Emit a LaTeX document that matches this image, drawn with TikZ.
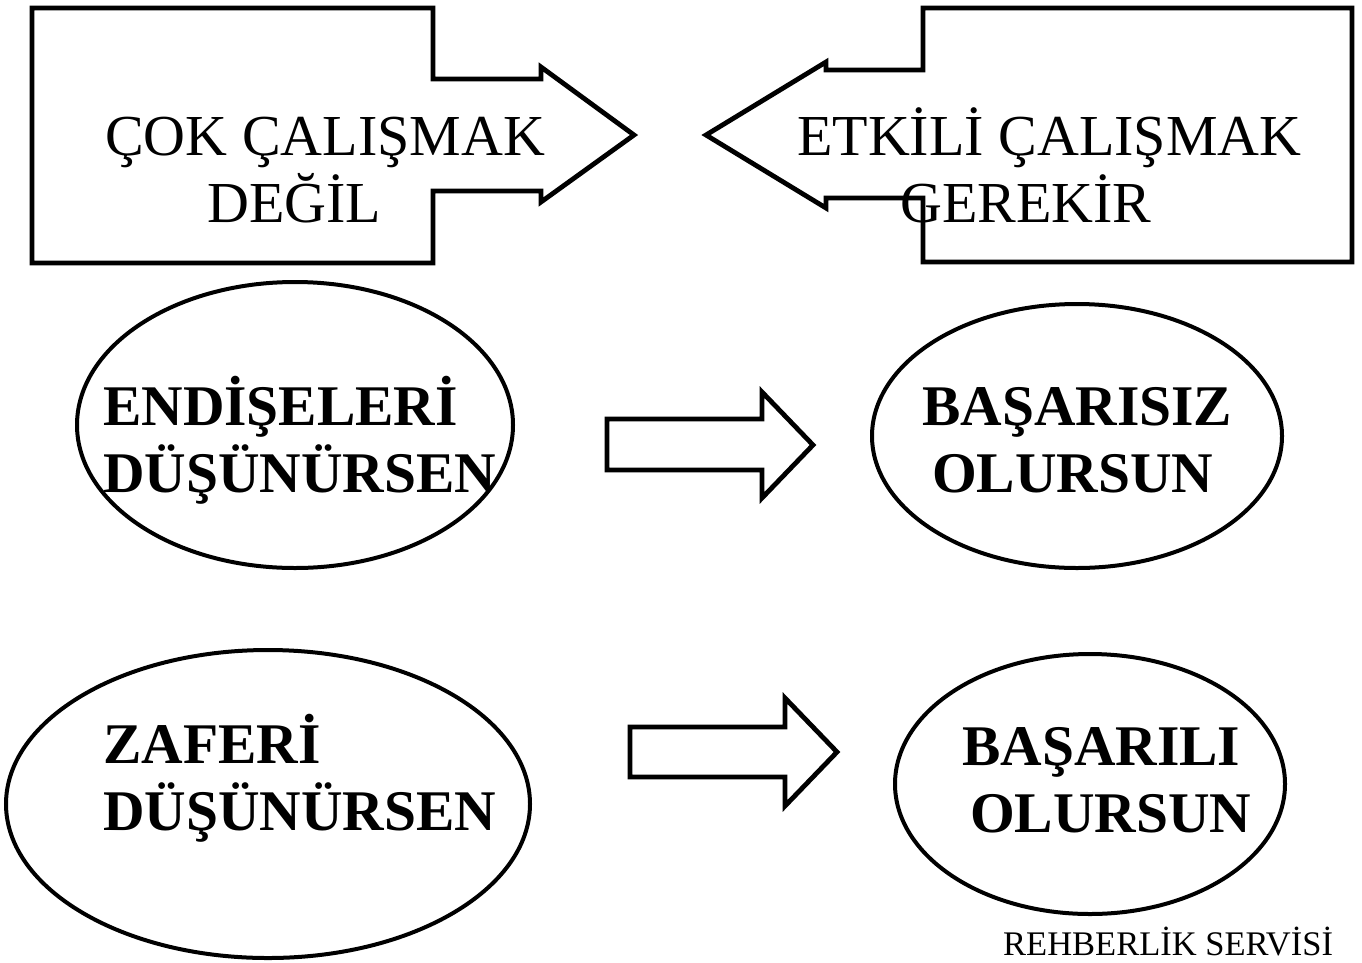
\documentclass[tikz,border=0pt]{standalone}
\usepackage{fontspec}
\setmainfont{Liberation Serif}
\usetikzlibrary{shapes.geometric}
\begin{document}
\begin{tikzpicture}[x=1pt,y=-1pt,line join=miter,
 outline/.style={draw=black,line width=4.8pt},
 oval/.style={draw=black,line width=4pt,ellipse,inner sep=0pt},
 reg/.style={font=\fontsize{58}{60}\selectfont,anchor=base west,inner sep=0pt},
 bld/.style={font=\fontsize{57.5}{60}\selectfont\bfseries,anchor=base west,inner sep=0pt},
 small/.style={font=\fontsize{34.5}{36}\selectfont,anchor=base west,inner sep=0pt}]
\useasboundingbox (0,0) rectangle (1362,962);
% top block arrows
\draw[outline] (32,8) -- (433,8) -- (433,79) -- (541,79) -- (541,67) -- (634,135)
  -- (541,202) -- (541,191) -- (433,191) -- (433,263) -- (32,263) -- cycle;
\draw[outline] (1352,8) -- (923,8) -- (923,70) -- (826,70) -- (826,62) -- (706,135)
  -- (826,208) -- (826,198) -- (923,198) -- (923,262) -- (1352,262) -- cycle;
\node[reg] (t1a) at (105,155) {ÇOK ÇALIŞMAK};
\node[reg] (t1b) at (207,222) {DEĞİL};
\node[reg] (t2a) at (797,155) {ETKİLİ ÇALIŞMAK};
\node[reg] (t2b) at (900,222) {GEREKİR};
% ellipses
\node[oval,minimum width=436pt,minimum height=286pt] (e1) at (295,425) {};
\node[oval,minimum width=410pt,minimum height=264pt] (e2) at (1077,436) {};
\node[oval,minimum width=524pt,minimum height=308pt] (e3) at (268,804) {};
\node[oval,minimum width=390pt,minimum height=260pt] (e4) at (1090,784) {};
\node[bld] (l1a) at (103,425) {ENDİŞELERİ};
\node[bld] (l1b) at (103,492) {DÜŞÜNÜRSEN};
\node[bld] (r1a) at (922,425) {BAŞARISIZ};
\node[bld] (r1b) at (932,492) {OLURSUN};
\node[bld] (l2a) at (103,763) {ZAFERİ};
\node[bld] (l2b) at (103,830) {DÜŞÜNÜRSEN};
\node[bld] (r2a) at (962,765) {BAŞARILI};
\node[bld] (r2b) at (970,832) {OLURSUN};
% middle block arrows
\draw[outline] (607,419) -- (762,419) -- (762,392) -- (813,445) -- (762,498)
  -- (762,470) -- (607,470) -- cycle;
\draw[outline] (630,727) -- (785,727) -- (785,698) -- (837,752) -- (785,806)
  -- (785,777) -- (630,777) -- cycle;
\node[small] (footer) at (1003,955) {REHBERLİK SERVİSİ};
\end{tikzpicture}
\end{document}
